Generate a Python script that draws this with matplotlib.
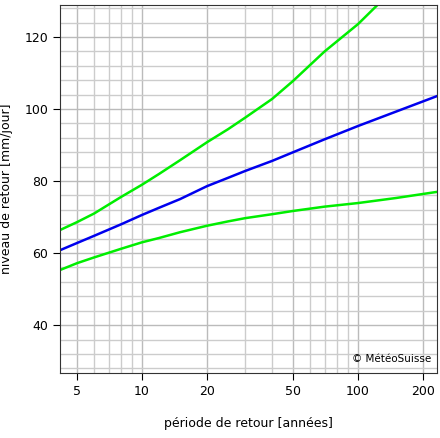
import numpy as np
import matplotlib.pyplot as plt
from matplotlib.ticker import MultipleLocator, FixedLocator, NullFormatter

periods = [4.17, 5, 6, 8, 10, 12, 15, 20, 25, 30, 40, 50, 70, 100, 150, 232]
estimate = [60.8, 62.8, 64.8, 68.0, 70.6, 72.6, 75.0, 78.6, 80.9, 82.8, 85.6, 88.0, 91.6, 95.3, 99.3, 103.6]
upper = [66.4, 68.6, 71.0, 75.6, 79.0, 82.0, 85.8, 90.8, 94.4, 97.6, 102.8, 107.8, 116.0, 123.6, 134.0, 145.0]
lower = [55.3, 57.2, 58.8, 61.2, 63.0, 64.2, 65.8, 67.6, 68.8, 69.7, 70.8, 71.7, 72.9, 73.9, 75.3, 77.0]

fig = plt.figure(figsize=(4.4, 4.38), dpi=100)
ax = fig.add_axes([60/440, 65/438, 377/440, 368/438])

ax.plot(periods, upper, color="#00ee00", lw=1.8)
ax.plot(periods, lower, color="#00ee00", lw=1.8)
ax.plot(periods, estimate, color="#0000ee", lw=1.8)

ax.set_xscale("log")
ax.set_xlim(4.17, 232)
ax.set_ylim(26.7, 128.9)

ax.xaxis.set_major_locator(FixedLocator([5, 10, 20, 50, 100, 200]))
ax.set_xticklabels(["5", "10", "20", "50", "100", "200"])
minor_x = [m * d for d in (1, 10, 100) for m in range(1, 10)]
ax.xaxis.set_minor_locator(FixedLocator(minor_x))
ax.xaxis.set_minor_formatter(NullFormatter())
ax.yaxis.set_major_locator(MultipleLocator(20))
ax.yaxis.set_minor_locator(MultipleLocator(4))

ax.grid(which="minor", color="#cccccc", lw=1)
ax.grid(which="major", color="#bbbbbb", lw=1)
ax.tick_params(which="minor", length=0)
ax.tick_params(which="major", labelsize=9, length=5)
ax.set_axisbelow(True)
for s in ax.spines.values():
    s.set_color("#333333")

ax.set_xlabel("période de retour [années]", fontsize=9, labelpad=14)
ax.set_ylabel("niveau de retour [mm/jour]", fontsize=9, labelpad=8)
ax.text(0.985, 0.025, "© MétéoSuisse", transform=ax.transAxes, ha="right", va="bottom", fontsize=7.5)

fig.savefig("out.png", dpi=100)
